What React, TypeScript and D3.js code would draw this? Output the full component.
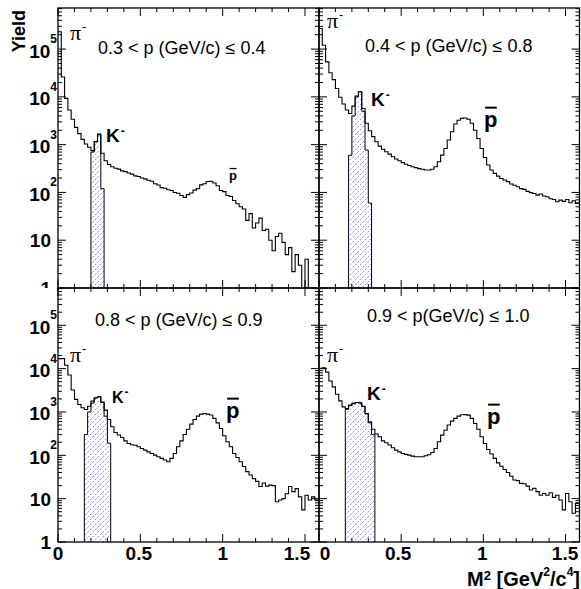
import React from 'react';
import * as d3 from 'd3';

// ---------------- data ----------------
const BIN_WIDTH = 0.02; // GeV^2/c^4 per bin
const M2_MAX = 1.585;
const YIELD_MIN = 1;
const YIELD_MAX = Math.pow(10, 5.86);

const yieldP03_04 = [
  230000, 26000, 9300, 5300, 3400, 2300, 1700, 1290, 1030, 880,
  750, 1150, 1660, 660, 460, 385, 345, 320, 308, 282,
  272, 255, 242, 222, 215, 200, 192, 180, 172, 152,
  143, 126, 122, 114, 110, 100, 96, 86, 79, 90,
  97, 112, 120, 144, 152, 170, 172, 158, 138, 110,
  104, 86, 82, 68, 58, 50, 45, 26, 36, 18,
  23, 29, 16, 17, 10, 6, 12, 14, 9, 5,
  7, 2.2, 5, 3, 0, 4, 0, 0, 0,
];
const yieldP04_08 = [
  270000, 120000, 54000, 32000, 23000, 15000, 9800, 7100, 5300, 4500,
  6400, 10400, 12800, 5700, 2800, 1950, 1470, 1150, 930, 800,
  710, 635, 560, 500, 460, 420, 390, 365, 345, 330,
  315, 305, 295, 295, 305, 345, 440, 605, 830, 1250,
  1860, 2700, 3250, 3550, 3600, 3400, 2800, 2000, 1350, 830,
  540, 375, 295, 250, 220, 196, 182, 168, 150, 141,
  132, 120, 116, 105, 99, 95, 88, 93, 84, 81,
  74, 71, 64, 69, 65, 71, 61, 67, 59,
];
const yieldP08_09 = [
  17000, 17000, 12000, 7100, 3200, 1950, 1490, 1250, 1140, 1360,
  1780, 2130, 2240, 1700, 1100, 670, 455, 335, 295, 258,
  215, 187, 175, 170, 158, 144, 132, 120, 110, 101,
  93, 85, 78, 71, 85, 110, 158, 215, 303, 400,
  525, 670, 800, 890, 920, 890, 850, 710, 560, 415,
  283, 205, 158, 110, 89, 71, 55, 42, 35, 29,
  25, 19, 23, 19.5, 20.5, 20, 8.5, 9.3, 10, 13,
  19, 14.5, 17, 11, 5.5, 12, 9.3, 11, 9.3,
];
const yieldP09_10 = [
  10200, 10500, 8300, 5200, 3800, 2570, 1800, 1310, 1200, 1440,
  1580, 1650, 1620, 1360, 920, 590, 400, 310, 268, 215,
  195, 173, 149, 132, 120, 110, 105, 101, 96, 93,
  93, 93, 98, 103, 116, 144, 205, 292, 380, 500,
  615, 710, 800, 860, 870, 845, 710, 540, 400, 268,
  188, 136, 107, 85, 67, 56, 47, 40, 33, 27,
  26, 22.5, 22, 19.5, 15.8, 17.3, 14.5, 12, 13.2, 12,
  13.7, 10.7, 12, 9.3, 5.5, 13.2, 8.5, 4.6, 7.8,
];

// K- (hatched) component: first bin index and contents
const kaonStart03_04 = 10;
const kaon03_04 = [700, 1150, 1600, 120];
const kaonStart04_08 = 9;
const kaon04_08 = [600, 4000, 10000, 12800, 5000, 770, 60];
const kaonStart08_09 = 8;
const kaon08_09 = [300, 1000, 1600, 2100, 2240, 1650, 800, 190];
const kaonStart09_10 = 8;
const kaon09_10 = [1150, 1400, 1550, 1650, 1620, 1350, 900, 560, 300];

const momentumRanges = [
  '0.3 < p (GeV/c) \u2264 0.4',
  '0.4 < p (GeV/c) \u2264 0.8',
  '0.8 < p (GeV/c) \u2264 0.9',
  '0.9 < p(GeV/c) \u2264 1.0',
];
const xTickValues = [0, 0.5, 1, 1.5];
const xTickLabels = ['0', '0.5', '1', '1.5'];
const yDecades = [0, 1, 2, 3, 4, 5];

// ---------------- layout ----------------
const FONT = "'Liberation Sans', Arial, Helvetica, sans-serif";
const SERIF = "'Liberation Serif', 'Times New Roman', serif";

type Panel = {
  key: string;
  values: number[];
  kStart: number;
  kVals: number[];
  range: string;
  x0: number; x1: number; y0: number; y1: number;
  leftLabels: boolean;
  bottomLabels: boolean;
  labelDx: number[];
  rangePos: [number, number];
  piPos: [number, number];
  kPos: [number, number]; kSize: number;
  pPos: [number, number]; pSize: number;
};

const panels: Panel[] = [
  {
    key: 'tl', values: yieldP03_04, kStart: kaonStart03_04, kVals: kaon03_04, range: momentumRanges[0],
    x0: 58, x1: 319, y0: 8, y1: 288, leftLabels: true, bottomLabels: false, labelDx: [0, 0, 0, 0],
    rangePos: [98, 54], piPos: [70, 40], kPos: [106, 142], kSize: 19, pPos: [229, 180], pSize: 13,
  },
  {
    key: 'tr', values: yieldP04_08, kStart: kaonStart04_08, kVals: kaon04_08, range: momentumRanges[1],
    x0: 319, x1: 579.5, y0: 8, y1: 288, leftLabels: false, bottomLabels: false, labelDx: [0, 0, 0, 0],
    rangePos: [365, 52], piPos: [327, 28], kPos: [371, 106], kSize: 19, pPos: [484, 127], pSize: 22,
  },
  {
    key: 'bl', values: yieldP08_09, kStart: kaonStart08_09, kVals: kaon08_09, range: momentumRanges[2],
    x0: 58, x1: 319, y0: 288, y1: 542, leftLabels: true, bottomLabels: true, labelDx: [0, -1.5, 0, -8],
    rangePos: [95, 326], piPos: [70, 362], kPos: [112, 403], kSize: 16, pPos: [226, 418], pSize: 22,
  },
  {
    key: 'br', values: yieldP09_10, kStart: kaonStart09_10, kVals: kaon09_10, range: momentumRanges[3],
    x0: 319, x1: 579.5, y0: 288, y1: 542, leftLabels: false, bottomLabels: true, labelDx: [6, -3, -1, -0.5],
    rangePos: [367, 322], piPos: [327, 362], kPos: [367, 400], kSize: 19, pPos: [487, 424], pSize: 22,
  },
];

const FLOOR = 0.3;

function PanelView({ p }: { p: Panel }) {
  const x = d3.scaleLinear().domain([0, M2_MAX]).range([p.x0, p.x1]);
  const y = d3.scaleLog().domain([YIELD_MIN, YIELD_MAX]).range([p.y1, p.y0]);
  const clipId = 'clip-' + p.key;

  const pts: [number, number][] = p.values.map((v, i) => [i * BIN_WIDTH, v]);
  pts.push([p.values.length * BIN_WIDTH, p.values[p.values.length - 1]]);
  const line = d3
    .line<[number, number]>()
    .x((d) => x(d[0]))
    .y((d) => y(Math.max(d[1], FLOOR)))
    .curve(d3.curveStepAfter);

  const kpts: [number, number][] = p.kVals.map((v, i) => [(p.kStart + i) * BIN_WIDTH, v]);
  kpts.push([(p.kStart + p.kVals.length) * BIN_WIDTH, p.kVals[p.kVals.length - 1]]);
  const area = d3
    .area<[number, number]>()
    .x((d) => x(d[0]))
    .y0(y(FLOOR))
    .y1((d) => y(Math.max(d[1], FLOOR)))
    .curve(d3.curveStepAfter);

  // ticks
  const xTicks = d3.range(0, 16).map((i) => i / 10).filter((v) => v <= M2_MAX);
  const yTicks: { v: number; major: boolean }[] = [];
  yDecades.forEach((d) => {
    for (let j = 1; j <= 9; j++) {
      const v = j * Math.pow(10, d);
      if (v <= YIELD_MAX) yTicks.push({ v, major: j === 1 });
    }
  });

  const tickEls: JSX.Element[] = [];
  xTicks.forEach((t, i) => {
    const L = i % 5 === 0 ? 8 : 4;
    const xx = x(t);
    tickEls.push(<line key={'xb' + i} x1={xx} x2={xx} y1={p.y1} y2={p.y1 - L} />);
    tickEls.push(<line key={'xt' + i} x1={xx} x2={xx} y1={p.y0} y2={p.y0 + L} />);
  });
  yTicks.forEach((t, i) => {
    const L = t.major ? 8 : 4;
    const yy = y(t.v);
    tickEls.push(<line key={'yl' + i} x1={p.x0} x2={p.x0 + L} y1={yy} y2={yy} />);
    tickEls.push(<line key={'yr' + i} x1={p.x1} x2={p.x1 - L} y1={yy} y2={yy} />);
  });

  const labels: JSX.Element[] = [];
  if (p.leftLabels) {
    yDecades.forEach((d) => {
      const yy = y(Math.pow(10, d));
      if (d >= 2) {
        labels.push(
          <text key={'yl' + d} x={57} y={yy + 8.5} textAnchor="end" fontSize={19} fontWeight="bold">
            10
            <tspan fontSize={12} dy={-14.5}>{String(d)}</tspan>
          </text>
        );
      } else {
        labels.push(
          <text key={'yl' + d} x={51} y={yy + 7} textAnchor="end" fontSize={19} fontWeight="bold">
            {d === 0 ? '1' : '10'}
          </text>
        );
      }
    });
  }
  if (p.bottomLabels) {
    xTickValues.forEach((v, i) => {
      labels.push(
        <text key={'xl' + i} x={x(v) + p.labelDx[i]} y={560} textAnchor="middle" fontSize={19} fontWeight="bold">
          {xTickLabels[i]}
        </text>
      );
    });
  }

  const pw = p.pSize;
  return (
    <g>
      <defs>
        <clipPath id={clipId}>
          <rect x={p.x0} y={p.y0} width={p.x1 - p.x0} height={p.y1 - p.y0} />
        </clipPath>
      </defs>
      <g clipPath={`url(#${clipId})`}>
        <path d={area(kpts) || ''} fill="url(#khatch)" stroke="#000" strokeWidth={1} />
        <path d={line(pts) || ''} fill="none" stroke="#000" strokeWidth={1.1} />
      </g>
      <g stroke="#000" strokeWidth={1}>{tickEls}</g>
      <rect x={p.x0} y={p.y0} width={p.x1 - p.x0} height={p.y1 - p.y0} fill="none" stroke="#000" strokeWidth={1.3} />
      <g clipPath={p.y0 < 100 ? 'url(#topClip)' : undefined}>{labels}</g>
      <text x={p.rangePos[0]} y={p.rangePos[1]} fontSize={18}>{p.range}</text>
      <text x={p.piPos[0]} y={p.piPos[1]} fontSize={22} fontFamily={SERIF}>
        {'\u03c0'}
        <tspan fontFamily={FONT} fontSize={13} dy={-9} dx={1}>-</tspan>
      </text>
      <text x={p.kPos[0]} y={p.kPos[1]} fontSize={p.kSize} fontWeight="bold">
        K
        <tspan fontSize={12} dy={-7} dx={1}>-</tspan>
      </text>
      <text x={p.pPos[0]} y={p.pPos[1]} fontSize={pw} fontWeight="bold">p</text>
      <line
        x1={p.pPos[0] + 0.05 * pw}
        x2={p.pPos[0] + 0.58 * pw}
        y1={p.pPos[1] - 0.88 * pw}
        y2={p.pPos[1] - 0.88 * pw}
        stroke="#000"
        strokeWidth={pw > 15 ? 2 : 1.3}
      />
    </g>
  );
}

export default function App() {
  return (
    <svg
      width={581}
      height={589}
      style={{ position: 'absolute', left: 0, top: 0, background: '#fff' }}
      fontFamily={FONT}
    >
      <defs>
        <pattern id="khatch" patternUnits="userSpaceOnUse" width={5} height={5}>
          <rect width={5} height={5} fill="#fff" />
          <path
            d="M-1,1 L1,-1 M0,5 L5,0 M4,6 L6,4"
            stroke="#1a1aff"
            strokeWidth={0.8}
            strokeDasharray="0.9 1.5"
          />
        </pattern>
        <clipPath id="topClip">
          <rect x={0} y={0} width={581} height={288} />
        </clipPath>
      </defs>
      <rect x={0} y={0} width={581} height={589} fill="#fff" />
      {panels.map((p) => (
        <PanelView key={p.key} p={p} />
      ))}
      <text x={25} y={10} transform="rotate(-90 25 10)" textAnchor="end" fontSize={18} fontWeight="bold">
        Yield
      </text>
      <text x={580} y={586} textAnchor="end" fontSize={20} fontWeight="bold">
        {'M'}
        <tspan fontSize={13} dy={-6}>{'2'}</tspan>
        <tspan dy={6}>{' [GeV'}</tspan>
        <tspan fontSize={12} dy={-10}>{'2'}</tspan>
        <tspan dy={10}>{'/c'}</tspan>
        <tspan fontSize={12} dy={-10}>{'4'}</tspan>
        <tspan dy={10}>{']'}</tspan>
      </text>
    </svg>
  );
}
